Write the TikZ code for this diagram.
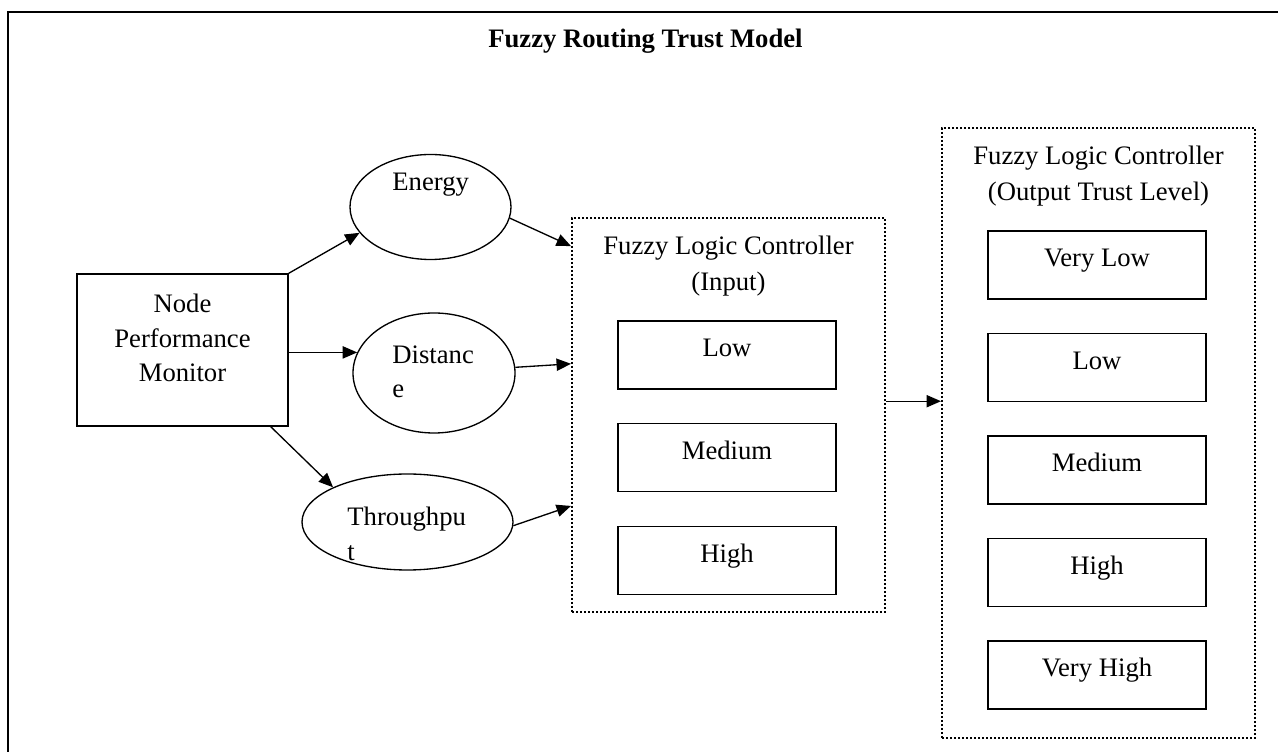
\documentclass[tikz,border=0pt]{standalone}
\usepackage{fontspec}
\setmainfont{Liberation Serif}
\usetikzlibrary{arrows.meta,positioning,shapes.geometric}

\begin{document}
\begin{tikzpicture}[x=0.45pt, y=-0.45pt,
  every node/.style={font=\fontsize{12}{15.5}\selectfont, inner sep=0pt},
  box/.style={draw, line width=0.6pt, rectangle},
  oval/.style={draw, line width=0.6pt, ellipse},
  level/.style={box, minimum width=98.1pt, minimum height=30.6pt,
    text height=8.6pt, text depth=7.1pt},
  flc/.style={draw, line width=0.9pt, dash pattern=on 0.9pt off 0.9pt,
    minimum width=140.85pt},
  flctitle/.style={anchor=north, align=center, font=\fontsize{12}{16.2}\selectfont},
  link/.style={-{Triangle[length=6.5pt,width=5.5pt]}, line width=0.6pt}]

  % page area and outer frame (runs off the right and bottom)
  \useasboundingbox (0,0) rectangle (1278,752);
  \clip (0,0) rectangle (1278,752);
  \draw[line width=0.9pt] (8,12) rectangle (1290,770);

  \node[anchor=base, font=\fontsize{12}{15.5}\selectfont\bfseries] (title)
    at (645.5,48) {Fuzzy Routing Trust Model};

  % monitor box
  \node[box, minimum width=94.95pt, minimum height=68.4pt] (npm) at (182.5,350) {};
  \node[anchor=north, align=center] (npmtxt) at (182.5,294)
    {Node\\Performance\\Monitor};

  % measured quantities
  \node[oval, minimum width=72.45pt, minimum height=47.25pt] (energy) at (430.5,207) {};
  \node[anchor=base west] (energytxt) at (392,191) {Energy};
  \node[oval, minimum width=72.9pt, minimum height=54pt] (dist) at (434,373) {};
  \node[anchor=north west, align=left] (disttxt) at (392,345) {Distanc\\e};
  \node[oval, minimum width=94.95pt, minimum height=43.2pt] (thr) at (407.5,522) {};
  \node[anchor=north west, align=left] (thrtxt) at (347,507) {Throughpu\\t};

  % input stage
  \node[flc, minimum height=177.3pt] (inp) at (728.5,415) {};
  \node[flctitle] (inptitle) at (728.5,236) {Fuzzy Logic Controller\\(Input)};
  \foreach \lvl/\y in {Low/355, Medium/457.5, High/560.5}
    \node[level] (in\lvl) at (727,\y) {\lvl};

  % output stage
  \node[flc, minimum height=274.5pt] (out) at (1098.5,433) {};
  \node[flctitle] (outtitle) at (1098.5,146)
    {Fuzzy Logic Controller\\(Output Trust Level)};
  \foreach \lvl [count=\i from 0] in {Very Low, Low, Medium, High, Very High}
    \node[level] (out\i) at (1097,{265+102.5*\i}) {\lvl};

  % arrows
  \draw[link] (npm.north east) -- (energy.200);
  \draw[link] (dist.165 -| npm.east) -- (dist.165);
  \draw[link] (npm.-41) -- (thr.155);
  \draw[link] (energy.-8) -- (inp.133);
  \draw[link] (dist.4) -- (inp.162);
  \draw[link] (thr.-2) -- (inp.210);
  \draw[link] (inp.5) -- (inp.5 -| out.west);
\end{tikzpicture}
\end{document}
